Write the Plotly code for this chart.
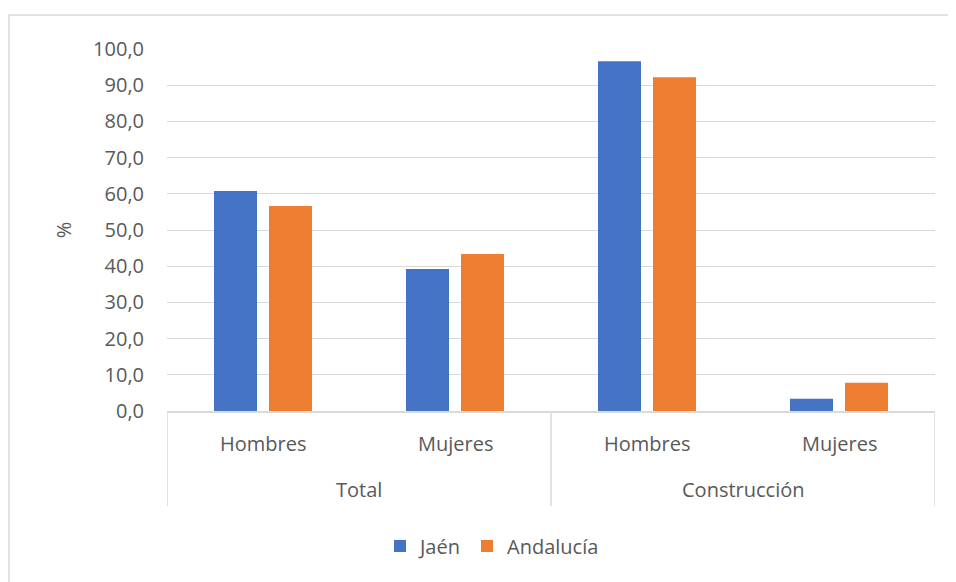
import plotly.graph_objects as go

groups = ["Total", "Total", "Construcción", "Construcción"]
sexes = ["Hombres", "Mujeres", "Hombres", "Mujeres"]
jaen = [60.8, 39.2, 96.6, 3.4]
andalucia = [56.6, 43.4, 92.2, 7.8]
group_names = ["Total", "Construcción"]

# page body has an 8px margin: figure pixels = screen pixels - 8
OFF = 8
W, H = 956, 582
L, R, T, B = 167 - OFF, 956 - 935 + OFF, 49 - OFF, 582 - 411 + OFF
pw, ph = W - L - R, H - T - B


def py(screen_y):
    return (H - B - (screen_y - OFF)) / ph


FONT = "Open Sans"
FS = 20
TXT = "#595959"
GRID = "#d9d9d9"

fig = go.Figure()
fig.add_trace(go.Bar(x=[groups, sexes], y=jaen, name="Jaén", marker_color="#4472c4",
                     marker_line_width=0))
fig.add_trace(go.Bar(x=[groups, sexes], y=andalucia, name="Andalucía", marker_color="#ed7d31",
                     marker_line_width=0))

annotations = []
for i, s in enumerate(sexes):
    annotations.append(dict(x=i, xref="x", y=py(443), yref="paper", text=s,
                            showarrow=False, xanchor="center", yanchor="middle",
                            font=dict(family=FONT, size=FS, color=TXT)))
for gi, g in enumerate(group_names):
    annotations.append(dict(x=gi * 2 + 0.5, xref="x", y=py(489), yref="paper", text=g,
                            showarrow=False, xanchor="center", yanchor="middle",
                            font=dict(family=FONT, size=FS, color=TXT)))

shapes = [dict(type="rect", xref="paper", yref="paper",
               x0=(9 - OFF - L) / pw, x1=(W + 30 - L) / pw,
               y0=py(H + 40), y1=py(15),
               line=dict(color=GRID, width=1.5), fillcolor="rgba(0,0,0,0)", layer="below")]
for xb in [-0.5, 1.5, 3.5]:
    shapes.append(dict(type="line", xref="x", yref="paper", x0=xb, x1=xb,
                       y0=0, y1=py(506), line=dict(color=GRID, width=1.5)))

fig.update_layout(
    width=W, height=H,
    margin=dict(l=L, r=R, t=T, b=B, autoexpand=False),
    paper_bgcolor="white", plot_bgcolor="white",
    barmode="group", bargap=0.427, bargroupgap=0.218,
    separators=",.",
    font=dict(family=FONT, size=FS, color=TXT),
    showlegend=True,
    legend=dict(orientation="h", x=(380 - OFF - L) / pw, xanchor="left",
                y=py(546), yanchor="middle",
                font=dict(family=FONT, size=FS, color=TXT),
                itemclick=False, bgcolor="rgba(0,0,0,0)"),
    xaxis=dict(type="multicategory", showline=True, linecolor=GRID, linewidth=1.5,
               showdividers=False, showticklabels=False, range=[-0.5, 3.5],
               ticks="", showgrid=False, zeroline=False, automargin=False),
    yaxis=dict(range=[0, 100], dtick=10, tickformat=".1f", showgrid=True,
               gridcolor=GRID, gridwidth=1.3, zeroline=False, showline=False,
               ticks="", ticklabelstandoff=22,
               tickfont=dict(family=FONT, size=FS, color=TXT),
               title=dict(text="%", font=dict(family=FONT, size=FS, color=TXT), standoff=16),
               automargin=False),
    annotations=annotations,
    shapes=shapes,
)

fig.write_html("out.html")
